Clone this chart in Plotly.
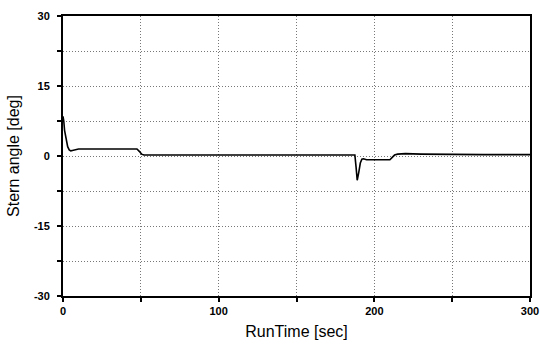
import plotly.graph_objects as go

time_s = [0, 0.5, 1, 2, 3, 4, 5, 6, 8, 10, 20, 30, 40, 46, 47.5, 49, 50.5, 52, 60, 80,
          100, 120, 140, 160, 180, 187.5, 188.3, 189.0, 190, 191, 192, 193, 195, 200,
          205, 210, 211.5, 213, 215, 217, 220, 230, 250, 270, 300]
stern_deg = [8.5, 7.5, 5.5, 3.5, 2.0, 1.3, 1.1, 1.2, 1.4, 1.5, 1.5, 1.5, 1.5, 1.5, 1.5, 1.0, 0.4, 0.2, 0.2, 0.2,
             0.2, 0.25, 0.2, 0.2, 0.2, 0.2, -2.5, -5.2, -3.5, -1.5, -0.7, -0.6, -0.8, -0.8,
             -0.8, -0.8, -0.3, 0.2, 0.4, 0.5, 0.5, 0.4, 0.3, 0.3, 0.3]

x_ticks = [0, 100, 200, 300]
y_ticks = [-30, -15, 0, 15, 30]

fig = go.Figure()
fig.add_trace(go.Scatter(x=time_s, y=stern_deg, mode="lines",
                         line=dict(color="black", width=1.6), showlegend=False))

grid_dash = "1px,2px"

axis_common = dict(
    showline=True, linecolor="black", linewidth=2, mirror=True,
    ticks="outside", ticklen=4, tickcolor="black", tickwidth=1.5,
    showgrid=True, gridcolor="#777777", gridwidth=1, griddash=grid_dash,
    zeroline=False, automargin=False,
    tickfont=dict(family="Liberation Sans", size=11, color="black", weight="bold"),
)

fig.update_xaxes(
    range=[0, 300], tickvals=x_ticks, ticktext=[str(v) for v in x_ticks],
    minor=dict(dtick=50, tick0=0, ticks="outside", ticklen=4, tickcolor="black",
               showgrid=True, gridcolor="#777777", griddash=grid_dash),
    title=dict(text="RunTime [sec]", font=dict(family="Liberation Sans", size=16, color="black"),
               standoff=10),
    **axis_common,
)
fig.update_yaxes(
    range=[-30, 30], tickvals=y_ticks, ticktext=[str(v) for v in y_ticks],
    minor=dict(dtick=7.5, tick0=0, ticks="outside", ticklen=4, tickcolor="black",
               showgrid=True, gridcolor="#777777", griddash=grid_dash),
    ticklabelstandoff=5,
    title=dict(text="Stern angle [deg]", font=dict(family="Liberation Sans", size=16, color="black"),
               standoff=10),
    **axis_common,
)

fig.update_layout(
    width=540, height=345,
    margin=dict(l=63, r=10, t=16, b=49),
    paper_bgcolor="white", plot_bgcolor="white",
)

fig.write_html("out.html")
